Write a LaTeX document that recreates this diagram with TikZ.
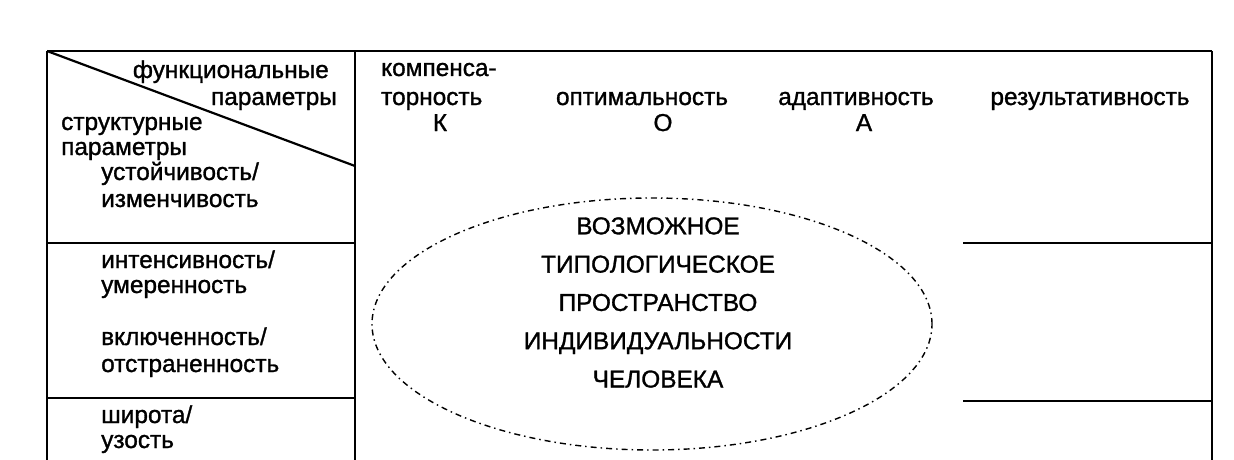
\documentclass[tikz,border=0pt]{standalone}
\usepackage{fontspec}
\setmainfont{Liberation Sans}[FakeBold=1.2]
\begin{document}
\begin{tikzpicture}[x=1pt,y=-1pt,
  frame/.style={line width=2.6pt},
  rule/.style={line width=2.2pt},
  lbl/.style={inner sep=0pt, font=\fontsize{24.4}{28}\selectfont},
  big/.style={inner sep=0pt, align=center, font=\fontsize{24.4}{38.3}\selectfont},
  oval/.style={line width=1.4pt, dash pattern=on 6pt off 4pt on 1.5pt off 4pt}]
\useasboundingbox (0,0) rectangle (1234,460);
\clip (0,0) rectangle (1234,460);
% frame coordinates
\coordinate (tl) at (47,51);
\coordinate (tm) at (355,51);
\coordinate (tr) at (1212,51);
\coordinate (bl) at (47,462);
\coordinate (bm) at (355,462);
\coordinate (br) at (1212,462);
\coordinate (dg) at (355,166);
\coordinate (la1) at (47,243);
\coordinate (lb1) at (355,243);
\coordinate (la2) at (47,398);
\coordinate (lb2) at (355,398);
\coordinate (ra1) at (963,243);
\coordinate (rb1) at (1212,243);
\coordinate (ra2) at (963,401);
\coordinate (rb2) at (1212,401);
% frame
\draw[frame] (tl) -- (tr);
\draw[frame] (tl) -- (bl);
\draw[frame] (tm) -- (bm);
\draw[frame] (tr) -- (br);
\draw[rule] (tl) -- (dg);
\draw[rule] (la1) -- (lb1);
\draw[rule] (la2) -- (lb2);
\draw[rule] (ra1) -- (rb1);
\draw[rule] (ra2) -- (rb2);
% corner labels
\node[lbl, anchor=base east] (fn1) at (329,78) {функциональные};
\node[lbl, anchor=base east] (fn2) at (337,105) {параметры};
\node[lbl, anchor=base west] (st1) at (61,130) {структурные};
\node[lbl, anchor=base west] (st2) at (61,155) {параметры};
% row labels
\node[lbl, anchor=base west] (r1a) at (101,180) {устойчивость/};
\node[lbl, anchor=base west] (r1b) at (101,207) {изменчивость};
\node[lbl, anchor=base west] (r2a) at (101,268) {интенсивность/};
\node[lbl, anchor=base west] (r2b) at (101,293) {умеренность};
\node[lbl, anchor=base west] (r3a) at (101,345) {включенность/};
\node[lbl, anchor=base west] (r3b) at (101,372) {отстраненность};
\node[lbl, anchor=base west] (r4a) at (101,423) {широта/};
\node[lbl, anchor=base west] (r4b) at (101,448) {узость};
% column headers
\node[lbl, anchor=base west] (h1a) at (381,76) {компенса-};
\node[lbl, anchor=base west] (h1b) at (381,105) {торность};
\node[lbl, anchor=base] (hk) at (440,131) {К};
\node[lbl, anchor=base] (h2) at (642,105) {оптимальность};
\node[lbl, anchor=base] (ho) at (663,131) {О};
\node[lbl, anchor=base] (h3) at (856,105) {адаптивность};
\node[lbl, anchor=base] (ha) at (864,131) {А};
\node[lbl, anchor=base] (h4) at (1090,105) {результативность};
% ellipse
\draw[oval] (652,324) ellipse [x radius=280pt, y radius=126pt];
\node[big] (space) at (658,302.5) {ВОЗМОЖНОЕ\\ТИПОЛОГИЧЕСКОЕ\\ПРОСТРАНСТВО\\ИНДИВИДУАЛЬНОСТИ\\ЧЕЛОВЕКА};
\end{tikzpicture}
\end{document}
